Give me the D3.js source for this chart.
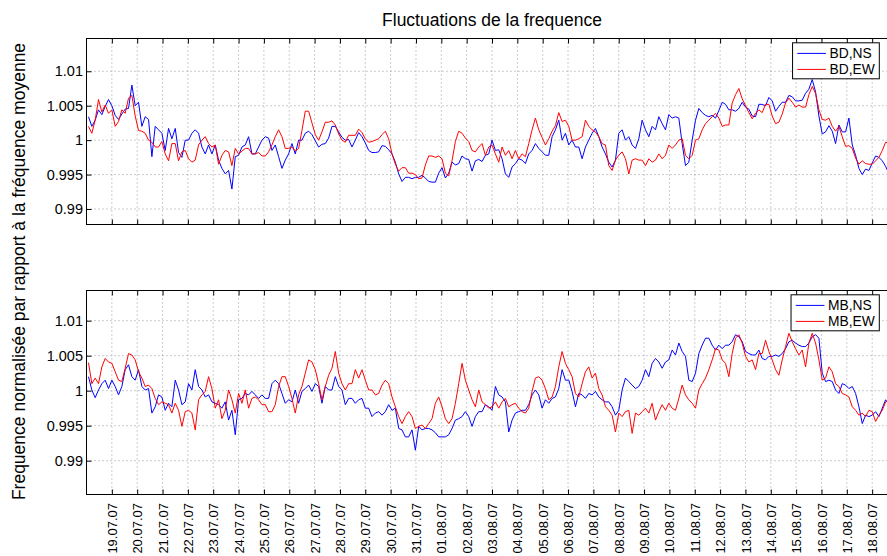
<!DOCTYPE html>
<html>
<head>
<meta charset="utf-8">
<script src="https://cdn.jsdelivr.net/npm/d3@7"></script>
<style>
    body { margin: 0; background: #fff; }
    text { font-family: "Liberation Sans", Arial, Helvetica, sans-serif; fill: #000; }
</style>
</head>
<body>
<div id="visualization"></div>
<script>
// ecart a la frequence moyenne, en pour mille (1 + v/1000), un echantillon toutes les ~3h10
const bdNS = [
    3.4, 2.0, 2.9, 4.4, 3.7, 4.9, 5.9, 5.0, 3.6, 3.0,
    3.8, 4.5, 4.6, 8.0, 5.0, 5.5, 2.0, 3.4, 3.0, -2.4,
    2.0, 1.5, 1.0, -1.5, 1.7, 0.2, 1.7, -1.8, -2.5, 0.0,
    0.0, 1.0, 1.5, 1.0, -1.0, -2.0, -0.7, -2.0, -0.7, -2.9,
    -4.1, -4.9, -4.4, -7.1, -2.4, -2.2, -1.0, -0.7, 0.5, -2.0,
    -2.0, -1.0, 0.0, 0.5, 0.3, -1.5, -0.7, -2.4, -4.1, -2.9,
    -2.0, -0.5, -2.0, 0.0, 0.0, 1.0, 1.3, 0.8, -0.1, -1.0,
    -0.6, -0.5, 0.3, 2.0, 2.0, 1.2, 0.4, 0.0, 0.1, -1.0,
    0.0, 1.1, 0.5, -0.4, -1.5, -1.8, -1.8, -1.7, -0.8, -0.9,
    -1.4, -2.0, -3.2, -4.9, -6.0, -5.4, -5.4, -5.6, -5.4, -5.4,
    -5.1, -5.5, -6.0, -6.1, -6.1, -4.8, -4.0, -5.5, -4.8, -3.2,
    -3.6, -3.4, -2.3, -2.7, -2.8, -4.5, -3.0, -2.8, -3.1, -2.2,
    -2.0, 0.0, -1.5, -1.4, -2.7, -4.9, -5.4, -3.9, -3.4, -2.7,
    -2.9, -3.4, -2.0, -1.5, -0.5, -1.2, -1.7, -2.2, -2.2, 0.5,
    1.5, 2.9, 0.0, 1.0, -0.7, 0.0, -1.0, -1.0, -2.7, -1.0,
    0.0, 1.0, 1.7, 0.5, -1.0, -2.0, -3.2, -3.9, -2.9, 1.0,
    1.5, 0.0, 0.5, -0.7, -1.2, 0.2, 2.9, 1.5, 0.5, 2.0,
    1.5, 3.4, 2.4, 1.5, 3.7, 3.2, 3.4, 3.2, -0.5, -3.7,
    -3.2, 0.0, 2.9, 4.6, 4.0, 3.6, 3.4, 3.6, 3.2, 4.3,
    5.5, 5.2, 4.4, 4.4, 4.2, 4.6, 5.5, 4.8, 4.5, 3.5,
    3.4, 5.2, 5.2, 5.0, 6.2, 5.7, 4.2, 4.9, 5.5, 5.5,
    6.5, 6.3, 5.7, 5.7, 5.8, 6.8, 7.4, 8.8, 7.0, 3.5,
    0.9, 1.2, 2.1, 1.3, -0.5, 2.2, 1.2, 1.2, 3.2, -0.7,
    -2.2, -4.1, -5.0, -4.2, -4.4, -3.3, -2.3, -2.5, -3.0, -3.8, -4.9
]
const bdEW = [
    2.0, 1.0, 2.9, 5.9, 4.1, 5.1, 3.9, 4.4, 2.0, 2.7,
    4.4, 3.9, 6.1, 6.5, 3.5, 1.4, 1.3, 1.0, 0.0, -0.3,
    -1.0, -1.0, -0.2, -2.0, -3.0, -0.5, -0.5, -3.0, -1.7, -1.5,
    -2.7, -3.2, -2.9, -0.7, 0.0, 0.5, -0.5, -1.0, -0.7, -3.5,
    -2.2, -1.5, -1.7, -3.7, -1.2, -2.0, -1.6, -1.2, -1.2, -2.0,
    -2.0, -1.8, -2.3, -2.3, -1.7, -0.7, 0.5, 1.5, 0.5, -1.2,
    -1.2, -1.0, -1.6, -1.2, 1.4, 4.2, 4.2, 2.5, 0.8, 0.0,
    1.2, 2.6, 2.6, 2.8, 2.2, 0.9, 0.0, -0.3, 0.7, 0.7,
    0.7, 1.6, 1.1, 0.2, -0.3, -0.2, 0.0, 0.2, 0.8, 1.3,
    0.2, -2.0, -3.5, -4.5, -4.0, -4.0, -4.8, -4.8, -5.0, -5.6,
    -5.5, -3.6, -2.3, -2.3, -2.5, -2.3, -2.7, -4.8, -5.2, -3.0,
    -0.2, 1.3, 1.0, 0.3, -0.2, -1.5, -1.7, -1.0, -0.5, -2.2,
    -1.0, -0.7, -2.0, -3.2, -1.0, -2.2, -1.5, -2.7, -1.5, -2.7,
    -2.0, -2.4, -0.5, 1.5, 3.2, 1.5, 0.4, -0.7, 0.2, 1.3,
    2.1, 4.0, 2.7, 2.9, 2.0, 0.0, 0.0, 0.2, 0.5, 2.9,
    2.0, 1.5, 1.2, 0.5, -0.5, -0.7, -3.7, -4.4, -2.9, -2.2,
    -1.7, -2.7, -4.9, -2.9, -2.7, -2.9, -2.9, -3.7, -2.7, -3.2,
    -2.9, -2.0, -2.7, -2.2, -0.7, -1.2, -0.7, 0.0, 0.2, -2.2,
    -2.7, -2.2, 0.0, 0.2, 1.5, 2.4, 2.9, 3.4, 3.9, 3.2,
    2.0, 2.2, 2.2, 5.4, 6.6, 7.5, 6.0, 5.0, 4.0, 3.1,
    3.9, 4.4, 4.0, 5.2, 5.2, 3.5, 2.4, 2.6, 3.8, 5.4,
    6.1, 5.5, 4.8, 5.1, 4.8, 4.8, 6.6, 7.8, 6.8, 4.4,
    3.0, 2.9, 3.2, 2.0, 1.3, 2.0, 0.5, -0.9, -0.8, -1.2,
    -2.6, -3.5, -3.0, -3.4, -3.5, -3.5, -3.0, -2.5, -1.5, -0.3, -0.5
]
const mbNS = [
    2.0, 0.1, -1.0, 0.1, 1.0, 1.5, 0.3, 1.5, 0.6, -0.6,
    0.6, 3.0, 3.7, 2.0, 1.5, 3.0, 0.6, 0.1, 0.3, -3.2,
    -2.3, -0.6, -0.9, -2.8, -1.8, -2.3, 1.5, 0.1, -2.0, -1.6,
    1.0, 0.1, 3.0, 0.6, 0.1, -0.9, -0.6, -1.6, -1.8, -2.0,
    -2.5, -1.6, -4.2, -2.8, -6.3, -1.3, -1.1, -0.4, -0.6, -0.1,
    -0.6, -1.1, -0.6, -1.1, -1.1, 1.0, 1.5, 1.0, -0.4, -1.8,
    -1.3, -1.6, 0.1, -1.8, -0.1, 0.3, 0.8, -0.1, 1.0, 0.6,
    -1.8, 0.6, 0.1, 0.1, 2.0, 0.6, 0.1, -2.0, -1.1, -1.1,
    -1.8, -1.3, -1.1, -2.5, -2.5, -3.7, -3.2, -3.0, -3.5, -3.0,
    -2.0, -2.8, -2.5, -5.4, -5.6, -6.6, -6.6, -5.6, -8.5, -5.1,
    -5.6, -5.4, -5.4, -5.6, -6.0, -6.6, -6.6, -6.6, -6.3, -5.4,
    -4.2, -4.0, -3.7, -3.0, -3.7, -5.1, -3.7, -3.0, -3.0, -2.0,
    -2.3, -2.8, 0.6, -0.6, -0.9, -1.6, -5.9, -4.2, -3.2, -3.0,
    -2.8, -2.8, -2.0, -0.6, 0.1, -0.6, -2.5, -1.3, -1.8, -1.1,
    -0.9, 0.3, 3.0, 1.5, 1.5, -0.1, -2.3, -0.4, -0.6, -1.1,
    -0.4, -0.6, -0.1, -0.9, -1.3, -1.6, -1.6, -2.3, -3.5, -2.8,
    0.1, 1.8, 1.3, 0.8, 0.3, 0.6, 1.5, 3.0, 2.0, 3.9,
    4.6, 4.1, 3.2, 4.1, 4.4, 5.8, 5.1, 6.8, 5.6, 4.9,
    1.5, 1.3, 2.5, 5.3, 6.5, 7.5, 7.5, 6.5, 5.8, 6.5,
    6.0, 6.5, 6.5, 7.0, 8.0, 7.7, 7.0, 5.6, 5.3, 5.1,
    5.1, 5.8, 4.6, 4.4, 4.9, 4.9, 5.1, 4.9, 5.3, 6.0,
    7.0, 7.2, 6.8, 6.5, 6.3, 6.3, 6.8, 7.7, 8.0, 7.5,
    2.5, 1.3, 1.5, 1.3, 0.1, -0.4, 1.0, 0.8, 0.3, 0.6,
    -0.4, -2.3, -4.7, -3.5, -3.7, -3.5, -3.0, -3.7, -2.5, -1.3, -2.0
]
const mbEW = [
    4.0, 1.0, 1.8, 1.0, 3.4, 4.6, 4.1, 3.9, 2.7, 1.5,
    1.3, 3.2, 5.3, 5.1, 4.4, 2.7, 1.8, 0.6, 0.8, 0.3,
    -1.1, -2.0, -1.6, -1.8, -2.0, -3.2, -1.8, -2.8, -5.1, -3.0,
    -2.8, -3.2, -5.6, -1.3, -0.6, -0.1, 2.0, 0.3, -2.5, -1.3,
    -4.0, -2.8, 0.1, -1.3, -3.2, -0.4, -1.8, 0.1, -2.5, -1.1,
    -0.9, -1.3, -2.0, -2.0, -3.0, -3.0, -2.0, 0.6, 2.0, 2.0,
    0.6, -1.1, -3.2, -0.6, 0.6, 2.5, 4.4, 4.1, 3.0, 1.0,
    -1.3, 0.6, 2.2, 3.2, 5.6, 2.5, 1.0, 0.1, 1.0, 1.0,
    3.0, 1.8, 3.0, 1.5, 0.1, 0.1, -0.6, -0.4, 0.8, 1.5,
    1.0, -0.9, -2.3, -3.7, -4.7, -3.7, -3.0, -3.7, -5.4, -5.1,
    -4.9, -5.4, -4.7, -4.0, -1.8, -0.9, -2.3, -4.0, -4.7, -4.0,
    -1.8, 1.0, 3.9, 1.5, 0.1, -1.3, -2.3, 0.1, -1.6, -2.0,
    -2.5, -2.3, -1.6, -2.5, -1.6, -1.1, -2.3, -2.0, -1.8, -2.5,
    -3.0, -3.2, -2.5, -0.1, 1.8, 2.0, 1.5, 0.3, -1.3, -0.9,
    0.6, 3.4, 5.6, 3.9, 3.0, 2.0, -0.4, -0.9, 1.0, 2.7,
    3.4, 1.8, 2.5, 0.3, -0.6, -2.3, -2.8, -3.5, -5.9, -3.2,
    -3.7, -3.0, -2.8, -6.1, -3.2, -3.5, -3.0, -2.5, -3.2, -1.8,
    -4.2, -3.0, -2.0, -2.8, -1.8, -2.5, -2.8, -1.1, 0.8, -0.6,
    -1.3, -1.8, -2.5, 0.1, 1.0, 1.8, 3.0, 4.4, 6.0, 5.8,
    4.4, 3.9, 2.0, 5.3, 7.5, 8.0, 6.8, 4.9, 4.1, 4.4,
    3.0, 5.3, 5.3, 7.2, 5.6, 4.4, 3.0, 2.2, 4.4, 6.3,
    8.2, 7.0, 6.0, 5.1, 5.8, 3.4, 6.8, 8.2, 6.8, 4.4,
    1.5, 1.8, 3.4, 2.7, 1.0, 0.6, -0.4, -0.6, -0.9, -2.3,
    -2.8, -3.5, -3.2, -3.7, -2.8, -3.0, -4.4, -3.5, -2.8, -1.6, -1.3
]

// premier echantillon et pas d'echantillonnage
const sampleStart = new Date(2007, 6, 18, 1, 54)
const sampleStepMin = 189.5

const dateLabels = ["19.07.07", "20.07.07", "21.07.07", "22.07.07", "23.07.07", "24.07.07", "25.07.07", "26.07.07",
    "27.07.07", "28.07.07", "29.07.07", "30.07.07", "31.07.07", "01.08.07", "02.08.07", "03.08.07", "04.08.07",
    "05.08.07", "06.08.07", "07.08.07", "08.08.07", "09.08.07", "10.08.07", "11.08.07", "12.08.07", "13.08.07",
    "14.08.07", "15.08.07", "16.08.07", "17.08.07", "18.08.07"]
const xLimits = ["18.07.07", "19.08.07"]
const yTicks = [0.99, 0.995, 1, 1.005, 1.01]
const yLimitsBD = [0.98775, 1.01476]
const yLimitsMB = [0.98517, 1.01431]

const seriesNames = [["BD,NS", "BD,EW"], ["MB,NS", "MB,EW"]]
const seriesValues = [[bdNS, bdEW], [mbNS, mbEW]]
const colors = ["#0000ff", "#ff0000"]

function draw() {
    const width = 887
    const height = 556
    const left = 86.5
    const right = 897.5
    const boxes = [{ top: 38.5, bottom: 224.5, ylim: yLimitsBD }, { top: 290.5, bottom: 494.5, ylim: yLimitsMB }]

    const parseDay = d3.timeParse("%d.%m.%y")
    const tickDates = dateLabels.map(parseDay)

    const x = d3.scaleTime()
        .domain(xLimits.map(parseDay))
        .range([left, right])

    const sampleTime = i => new Date(+sampleStart + i * sampleStepMin * 60000)
    const fmtY = v => String(+v.toFixed(3))

    const svg = d3.select('#visualization')
        .append('svg')
        .attr('width', width)
        .attr('height', height)

    boxes.forEach((b, p) => {
        const y = d3.scaleLinear().domain(b.ylim).range([b.bottom, b.top])
        const g = svg.append('g')

        svg.append('clipPath').attr('id', 'clip' + p)
            .append('rect')
            .attr('x', left).attr('y', b.top)
            .attr('width', right - left).attr('height', b.bottom - b.top)

        // dotted grid
        g.selectAll('.vgrid').data(tickDates).join('line')
            .attr('x1', d => x(d)).attr('x2', d => x(d))
            .attr('y1', b.top).attr('y2', b.bottom)
            .attr('stroke', '#808080').attr('stroke-width', 0.8)
            .attr('stroke-dasharray', '1,3')
        g.selectAll('.hgrid').data(yTicks).join('line')
            .attr('x1', left).attr('x2', right)
            .attr('y1', d => y(d)).attr('y2', d => y(d))
            .attr('stroke', '#808080').attr('stroke-width', 0.8)
            .attr('stroke-dasharray', '1,3')

        // series, NS first then EW on top
        const line = d3.line()
            .x((d, i) => x(sampleTime(i)))
            .y(d => y(1 + d / 1000))
        seriesValues[p].forEach((vals, s) => {
            g.append('path')
                .attr('d', line(vals))
                .attr('fill', 'none')
                .attr('stroke', colors[s])
                .attr('stroke-width', 1)
                .attr('stroke-linejoin', 'round')
                .attr('clip-path', `url(#clip${p})`)
        })

        // axes with inward ticks
        const yAxis = g.append('g')
            .attr('transform', `translate(${left},0)`)
            .call(d3.axisLeft(y).tickValues(yTicks).tickFormat(fmtY).tickSizeInner(-5).tickSizeOuter(0).tickPadding(3.5))
        g.append('g')
            .attr('transform', `translate(${right},0)`)
            .call(d3.axisRight(y).tickValues(yTicks).tickFormat('').tickSizeInner(-5).tickSizeOuter(0))
        g.append('g')
            .attr('transform', `translate(0,${b.top})`)
            .call(d3.axisTop(x).tickValues(tickDates).tickFormat('').tickSizeInner(-5).tickSizeOuter(0))
        const xAxis = g.append('g')
            .attr('transform', `translate(0,${b.bottom})`)
            .call(d3.axisBottom(x).tickValues(tickDates)
                .tickFormat(p == 1 ? d3.timeFormat('%d.%m.%y') : '')
                .tickSizeInner(-5).tickSizeOuter(0))

        g.selectAll('.domain').remove()
        g.selectAll('.tick line').attr('stroke', '#000')
        yAxis.selectAll('text')
            .attr('font-family', '"Liberation Sans", Arial, sans-serif')
            .attr('font-size', 14.5)
            .attr('fill', '#000')

        if (p == 1) {
            xAxis.selectAll('text')
                .attr('font-family', '"Liberation Sans", Arial, sans-serif')
                .attr('font-size', 13)
                .attr('fill', '#000')
                .attr('y', 0)
                .attr('x', -8.5)
                .attr('dy', '0.35em')
                .attr('transform', 'rotate(-90)')
                .style('text-anchor', 'end')
        }

        // box
        g.append('rect')
            .attr('x', left).attr('y', b.top)
            .attr('width', right - left).attr('height', b.bottom - b.top)
            .attr('fill', 'none').attr('stroke', '#000').attr('stroke-width', 1)

        // legend
        const leg = g.append('g')
        const legRight = 879.3
        const legTop = b.top + 4.3
        const frame = leg.append('rect')
        let textW = 0
        seriesNames[p].forEach((name, s) => {
            const t = leg.append('text')
                .attr('y', legTop + 10.6 + s * 16)
                .attr('dy', '0.35em')
                .attr('font-size', 13.8)
                .text(name)
            textW = Math.max(textW, t.node().getComputedTextLength())
        })
        const legW = 37 + textW + 4.5
        const legLeft = legRight - legW
        leg.selectAll('text').attr('x', legLeft + 37)
        seriesNames[p].forEach((name, s) => {
            leg.append('line')
                .attr('x1', legLeft + 4.7).attr('x2', legLeft + 33.4)
                .attr('y1', legTop + 10.6 + s * 16).attr('y2', legTop + 10.6 + s * 16)
                .attr('stroke', colors[s]).attr('stroke-width', 1)
        })
        frame.attr('x', legLeft).attr('y', legTop)
            .attr('width', legW).attr('height', 36)
            .attr('fill', '#fff').attr('stroke', '#000').attr('stroke-width', 1)
    })

    // title and y label
    svg.append('text')
        .attr('x', (left + right) / 2)
        .attr('y', 26)
        .attr('text-anchor', 'middle')
        .attr('font-size', 17.5)
        .text('Fluctuations de la frequence')

    svg.append('text')
        .attr('transform', 'translate(25.3,271.5) rotate(-90)')
        .attr('text-anchor', 'middle')
        .attr('font-size', 17.5)
        .text('Frequence normalisée par rapport à la fréquence moyenne')
}

draw()
</script>
</body>
</html>
